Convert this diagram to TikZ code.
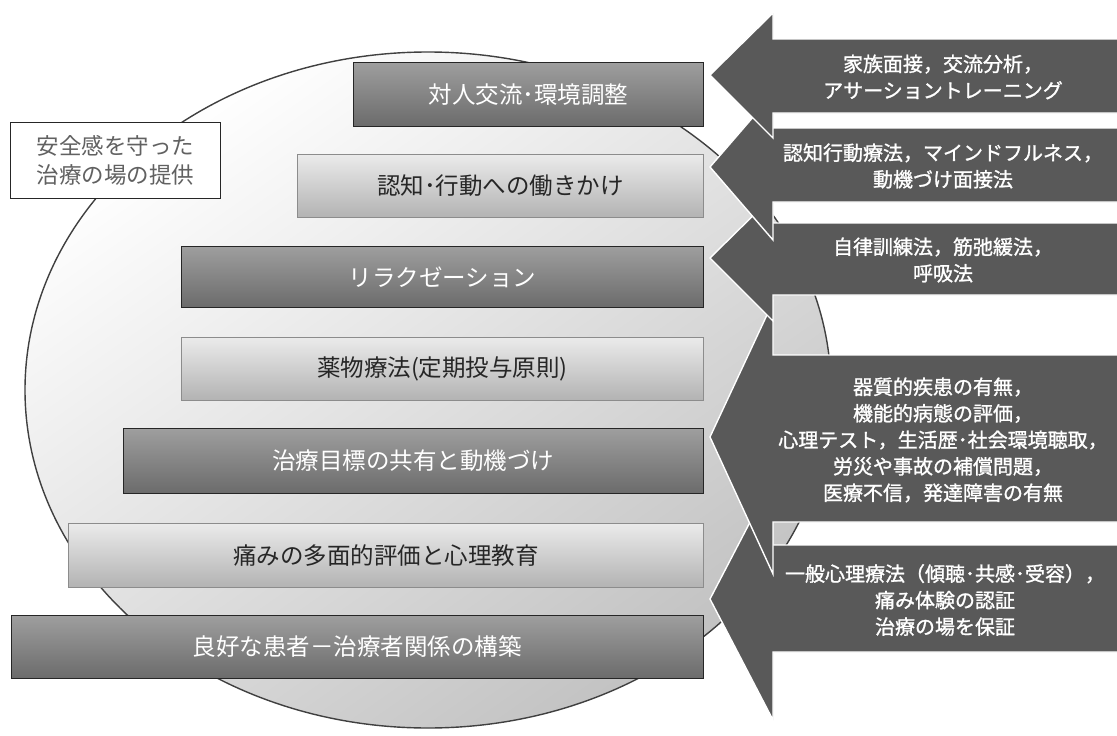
\documentclass[tikz,border=0pt]{standalone}
\usepackage{fontspec}
\usetikzlibrary{shapes.geometric}
\newfontfamily\jp{Noto Sans CJK JP}
\newfontfamily\jpb{Noto Sans CJK JP}[FakeBold=1.2]
\begin{document}
\begin{tikzpicture}[x=1pt,y=-1pt,
  bar/.style={line width=0.9pt, anchor=north west, inner sep=0pt, font=\jp\fontsize{23.5}{28}\selectfont},
  darkbar/.style={bar, draw=black!85, top color=black!38, bottom color=black!58, text=white},
  lightbar/.style={bar, draw=black!45, top color=black!8, bottom color=black!30, text=black!85},
  bigarrow/.style={fill=black!65, draw=white, line width=1.4pt, line join=miter},
  arrowtext/.style={text=white, align=center, font=\jpb\fontsize{20}{26.5}\selectfont},
]
\useasboundingbox (0,0) rectangle (1117,736);
\fill[white] (0,0) rectangle (1117,736);

% the big circle
\node[ellipse, draw=black!75, line width=1.4pt, inner sep=0pt,
      minimum width=806pt, minimum height=676pt,
      top color=white, bottom color=black!24, shading angle=35] (circ) at (428,390) {};

% label box
\node[draw=black!85, line width=1.2pt, fill=white, anchor=north west, inner sep=0pt,
      minimum width=210pt, minimum height=76pt, text=black!62, align=left,
      font=\jp\fontsize{22.5}{29}\selectfont] (safe) at (10,122) {安全感を守った\\治療の場の提供};

% bars
\node[darkbar,  minimum width=350pt, minimum height=64pt] (b1) at (353,62)  {対人交流･環境調整};
\node[lightbar, minimum width=406pt, minimum height=63pt] (b2) at (297,154) {認知･行動への働きかけ};
\node[darkbar,  minimum width=522pt, minimum height=61pt] (b3) at (181,246) {リラクゼーション};
\node[lightbar, minimum width=522pt, minimum height=63pt] (b4) at (181,337) {薬物療法(定期投与原則)};
\node[darkbar,  minimum width=580pt, minimum height=65pt] (b5) at (123,428) {治療目標の共有と動機づけ};
\node[lightbar, minimum width=635pt, minimum height=64pt] (b6) at (68,523)  {痛みの多面的評価と心理教育};
\node[darkbar,  minimum width=692pt, minimum height=63pt] (b7) at (11,615)  {良好な患者－治療者関係の構築};

% arrows (bottom first so upper ones lie on top)
\filldraw[bigarrow] (1118,545) -- (773,545) -- (773,478) -- (710,599) -- (773,720) -- (773,652) -- (1118,652) -- cycle;
\filldraw[bigarrow] (1118,355) -- (773,355) -- (773,302) -- (710,437) -- (773,574) -- (773,522) -- (1118,522) -- cycle;
\filldraw[bigarrow] (1118,223) -- (773,223) -- (773,196) -- (710,258) -- (773,321) -- (773,295) -- (1118,295) -- cycle;
\filldraw[bigarrow] (1118,128) -- (773,128) -- (773,94)  -- (710,167) -- (773,240) -- (773,202) -- (1118,202) -- cycle;
\filldraw[bigarrow] (1118,39)  -- (773,39)  -- (773,13)  -- (710,75)  -- (773,138) -- (773,113) -- (1118,113) -- cycle;

\node[arrowtext] (a1) at (943,77)  {家族面接，交流分析，\\アサーショントレーニング};
\node[arrowtext] (a2) at (943,166) {認知行動療法，マインドフルネス，\\動機づけ面接法};
\node[arrowtext] (a3) at (943,260) {自律訓練法，筋弛緩法，\\呼吸法};
\node[arrowtext] (a4) at (943,440) {器質的疾患の有無，\\機能的病態の評価，\\心理テスト，生活歴･社会環境聴取，\\労災や事故の補償問題，\\医療不信，発達障害の有無};
\node[arrowtext] (a5) at (945,600) {一般心理療法（傾聴･共感･受容），\\痛み体験の認証\\治療の場を保証};
\end{tikzpicture}
\end{document}
